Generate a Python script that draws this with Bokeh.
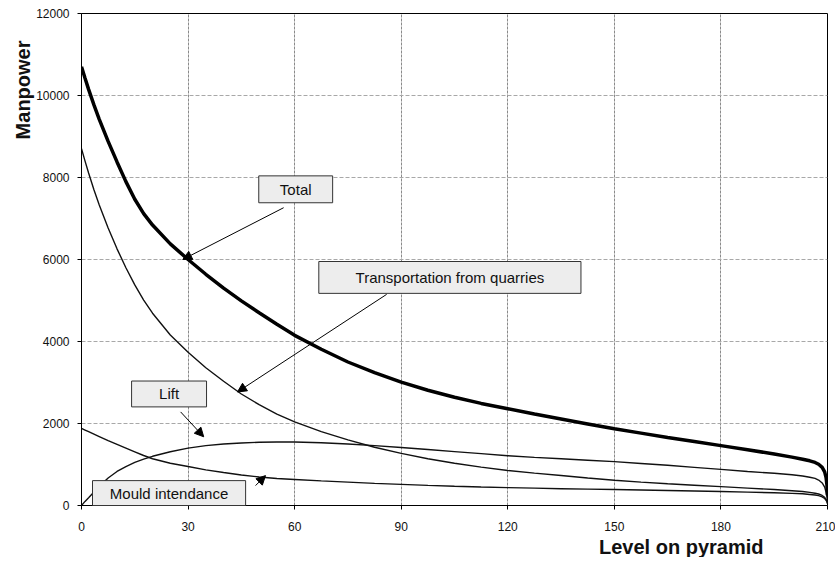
from bokeh.plotting import figure
from bokeh.models import BoxAnnotation, Label, Arrow, NormalHead, FixedTicker, Range1d, Title
from bokeh.embed import file_html
from bokeh.resources import INLINE

# ---- data ----
level = [0, 1, 2, 3.5, 5, 7.5, 10, 12.5, 15, 17.5, 20, 25, 30, 35, 40, 45, 50, 55, 60, 67.5,
         75, 82.5, 90, 97.5, 105, 112.5, 120, 127.5, 135, 142.5, 150, 157.5, 165, 172.5, 180,
         187.5, 195, 200, 203, 205, 206.5, 207.5, 208.5, 209.2, 209.6, 209.85, 210]
total = [10700, 10420, 10150, 9770, 9420, 8880, 8380, 7900, 7470, 7120, 6840, 6380, 6000, 5640,
         5300, 4990, 4700, 4420, 4150, 3810, 3500, 3240, 3010, 2810, 2640, 2490, 2360, 2230,
         2110, 1990, 1870, 1765, 1660, 1560, 1460, 1360, 1255, 1180, 1130, 1090, 1050, 1005,
         930, 820, 680, 500, 250]
transport = [8700, 8400, 8110, 7700, 7330, 6770, 6260, 5800, 5380, 5010, 4690, 4160, 3740, 3360,
             3030, 2720, 2460, 2230, 2040, 1800, 1600, 1420, 1270, 1140, 1030, 935, 855, 790,
             730, 670, 615, 570, 530, 495, 460, 425, 390, 360, 340, 320, 300, 280, 245, 200,
             150, 100, 50]
lift = [0, 100, 190, 330, 470, 670, 830, 950, 1050, 1130, 1200, 1310, 1400, 1460, 1500, 1525,
        1542, 1550, 1550, 1530, 1500, 1460, 1415, 1365, 1315, 1265, 1215, 1175, 1140, 1105,
        1070, 1025, 980, 930, 880, 830, 785, 750, 720, 690, 660, 620, 550, 450, 320, 200, 100]
mould = [1880, 1840, 1800, 1740, 1680, 1580, 1490, 1400, 1310, 1220, 1140, 1030, 950, 870, 805,
         745, 695, 660, 635, 600, 570, 540, 515, 490, 470, 452, 437, 423, 410, 400, 390, 378,
         365, 352, 340, 325, 310, 295, 285, 270, 255, 240, 210, 170, 130, 90, 50]

x_ticks = [0, 30, 60, 90, 120, 150, 180, 210]
y_ticks = [0, 2000, 4000, 6000, 8000, 10000, 12000]

FONT = "Liberation Sans"

p = figure(width=835, height=557, x_range=Range1d(0, 210), y_range=Range1d(0, 12000),
           output_backend="svg", toolbar_location=None,
           min_border_left=81, min_border_right=8, min_border_top=13, min_border_bottom=50)

p.outline_line_color = "black"
p.outline_line_width = 1
p.background_fill_color = "white"

for ax in (p.xaxis[0], p.yaxis[0]):
    ax.axis_line_color = "black"
    ax.major_tick_line_color = "black"
    ax.major_tick_out = 4
    ax.major_tick_in = 0
    ax.minor_tick_line_color = None
    ax.major_label_text_font = FONT
    ax.major_label_text_font_size = "12px"
    ax.major_label_text_color = "#111111"

p.xaxis.ticker = FixedTicker(ticks=x_ticks)
p.yaxis.ticker = FixedTicker(ticks=y_ticks)
p.xaxis.major_label_standoff = 12
p.yaxis.major_label_standoff = 8

p.xgrid.ticker = FixedTicker(ticks=x_ticks)
p.ygrid.ticker = FixedTicker(ticks=y_ticks)
p.xgrid.grid_line_color = "#8a8a8a"
p.xgrid.grid_line_dash = "3 1"
p.ygrid.grid_line_color = "#a8a8a8"
p.ygrid.grid_line_dash = "4 2"

# ---- curves ----
p.line(level, transport, line_color="#111111", line_width=1.4)
p.line(level, lift, line_color="#111111", line_width=1.4)
p.line(level, mould, line_color="#111111", line_width=1.4)
p.line(level, total, line_color="#000000", line_width=3.5)

# ---- annotation boxes ----
def note(text, left, right, bottom, top):
    p.add_layout(BoxAnnotation(left=left, right=right, bottom=bottom, top=top,
                               fill_color="#ededed", fill_alpha=1.0,
                               line_color="#333333", line_width=1, line_alpha=1.0))
    p.add_layout(Label(x=(left + right) / 2, y=(bottom + top) / 2, text=text,
                       text_align="center", text_baseline="middle",
                       text_font=FONT, text_font_size="15px", text_color="#111111"))

def arrow(x0, y0, x1, y1):
    p.add_layout(Arrow(end=NormalHead(size=9, fill_color="black", line_color="black"),
                       x_start=x0, y_start=y0, x_end=x1, y_end=y1,
                       line_color="black", line_width=1))

arrow(56.9, 7263, 28.5, 6000)
arrow(85.9, 5150, 43.9, 2769)
arrow(27.9, 2283, 34.4, 1676)
arrow(49.0, 486, 51.8, 729)

note("Total", 49.9, 70.7, 7384, 8040)
note("Transportation from quarries", 66.8, 140.6, 5174, 5951)
note("Lift", 14.1, 35.2, 2405, 3036)
note("Mould intendance", 3.1, 46.2, 0, 607)

# ---- axis titles ----
p.add_layout(Title(text="Level on pyramid", align="right", offset=64, standoff=0,
                   text_font=FONT, text_font_size="20px", text_font_style="bold",
                   text_color="#111111"), "below")
p.add_layout(Title(text="Manpower", align="right", offset=27, standoff=0,
                   text_font=FONT, text_font_size="20px", text_font_style="bold",
                   text_color="#111111"), "left")

open("out.html", "w").write(file_html(p, INLINE))
